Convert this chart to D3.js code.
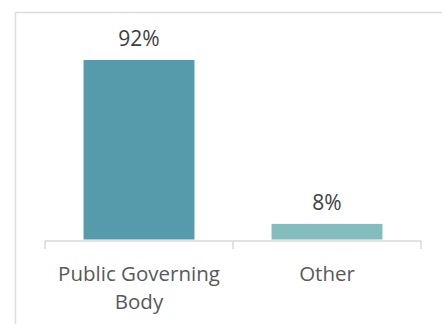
<!DOCTYPE html>
<html>
<head>
<meta charset="utf-8">
<script src="https://cdn.jsdelivr.net/npm/d3@7"></script>
<style>
  html, body { margin: 0; padding: 0; background: #fff; }
  svg { display: block; }
</style>
</head>
<body>
<script>
// Share of respondents by type of governing body
const categories = ["Public Governing Body", "Other"];
const categoryLines = [["Public Governing", "Body"], ["Other"]];
const values = [92, 8];
const barColors = ["#559bac", "#84bdbe"];

const W = 442, H = 324;
const svg = d3.select("body").append("svg").attr("width", W).attr("height", H);

// Chart area frame
svg.append("path")
  .attr("d", `M${W + 2},12.5 H15.5 V${H + 2}`)
  .attr("fill", "none")
  .attr("stroke", "#dcdcdc")
  .attr("stroke-width", 1.5);

const axisY = 241;
const left = 45, right = 421;

// Category slots (for tick marks) and bars inside them
const xo = d3.scaleBand().domain(categories).range([left, right]).padding(0);
const x = d3.scaleBand().domain(categories).range([left, right])
  .paddingInner(0.41).paddingOuter(0.205);
const y = d3.scaleLinear().domain([0, 92]).range([239.5, 60]);

svg.selectAll("rect.bar")
  .data(values)
  .join("rect")
  .attr("class", "bar")
  .attr("x", (d, i) => x(categories[i]))
  .attr("width", x.bandwidth())
  .attr("y", d => y(d))
  .attr("height", d => y(0) - y(d))
  .attr("fill", (d, i) => barColors[i]);

// Value labels
svg.selectAll("text.val")
  .data(values)
  .join("text")
  .attr("class", "val")
  .attr("x", (d, i) => x(categories[i]) + x.bandwidth() / 2)
  .attr("y", d => y(d) - 14)
  .attr("text-anchor", "middle")
  .attr("font-family", "'Open Sans', sans-serif")
  .attr("font-size", 21)
  .attr("fill", "#404040")
  .text(d => d + "%");

// Category axis: baseline and boundary ticks
const axisColor = "#d9d9d9";
svg.append("line")
  .attr("x1", left).attr("x2", right)
  .attr("y1", axisY).attr("y2", axisY)
  .attr("stroke", axisColor).attr("stroke-width", 1.5);

const tickXs = categories.map(c => xo(c)).concat([xo.range()[1]]);
svg.selectAll("line.tick")
  .data(tickXs)
  .join("line")
  .attr("class", "tick")
  .attr("x1", d => d).attr("x2", d => d)
  .attr("y1", axisY).attr("y2", axisY + 8)
  .attr("stroke", axisColor).attr("stroke-width", 1.5);

// Category labels
const catText = svg.selectAll("text.cat")
  .data(categories)
  .join("text")
  .attr("class", "cat")
  .attr("x", d => xo(d) + xo.bandwidth() / 2)
  .attr("y", 280.5)
  .attr("text-anchor", "middle")
  .attr("font-family", "'Open Sans', sans-serif")
  .attr("font-size", 20.5)
  .attr("fill", "#595959");

catText.each(function(d, i) {
  d3.select(this).selectAll("tspan")
    .data(categoryLines[i])
    .join("tspan")
    .attr("x", xo(d) + xo.bandwidth() / 2)
    .attr("dy", (t, j) => j === 0 ? 0 : 28)
    .text(t => t);
});
</script>
</body>
</html>
